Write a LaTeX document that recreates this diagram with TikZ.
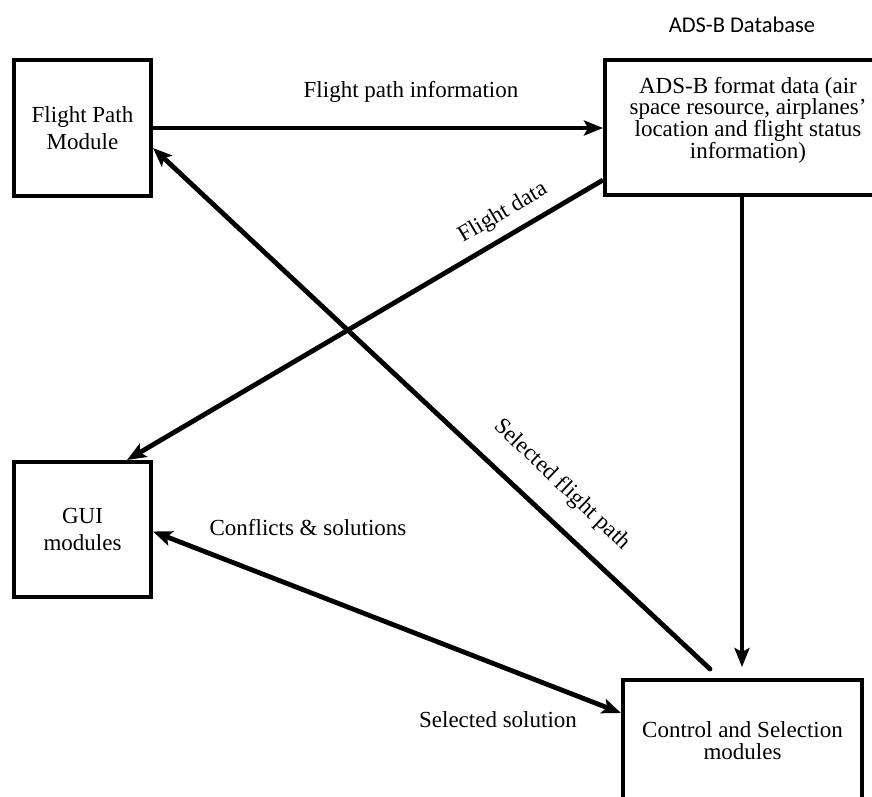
\documentclass[tikz,border=0pt]{standalone}
\usepackage{fontspec}
\setmainfont{Liberation Serif}
\newfontfamily\dbfont{Carlito}
\usetikzlibrary{arrows.meta,calc}
\begin{document}
\begin{tikzpicture}[x=1pt,y=-1pt,
  box/.style={draw,line width=4pt,minimum width=137pt,minimum height=136pt,inner sep=0pt,align=center,font=\fontsize{23}{26.5}\selectfont},
  txt/.style={font=\fontsize{23}{27}\selectfont,inner sep=0pt},
  tip/.style={},
  conn/.style={line width=4.8pt,-{Stealth[length=19pt,width=15pt,inset=4pt]}},
  conntwo/.style={line width=4.8pt,{Stealth[length=19pt,width=15pt,inset=4pt]}-{Stealth[length=19pt,width=15pt,inset=4pt]}},
  ]
\useasboundingbox (0,0) rectangle (872,796);
\clip (0,0) rectangle (872,796);
\fill[white] (0,0) rectangle (872,796);

\node[box] (fp) at (82.5,128) {Flight Path\\Module};
\node[box,minimum height=135pt] (gui) at (82.5,529.5) {GUI\\modules};
\node[box,minimum width=285pt,minimum height=135pt] (ads) at (747.5,127.5) {};
\node[txt,align=center,font=\fontsize{23}{21.7}\selectfont] (adst) at (748,120) {ADS-B format data (air\\space resource, airplanes’\\location and flight status\\information)};
\node[box,minimum width=239pt,minimum height=150pt] (ctl) at (742.5,755) {};
\node[txt,align=center,font=\fontsize{23}{22}\selectfont] (ctlt) at (742.5,741) {Control and Selection\\modules};
\node[font=\dbfont\fontsize{22.5}{26}\selectfont,inner sep=0pt] (db) at (742,25) {ADS-B Database};

\draw[conn] (fp.east) -- (fp.east -| ads.west);
\draw[conn] ($(ads.south west)+(0,-17)$) -- ($(gui.north east)+(-26,0)$);
\draw[conn,line cap=round] ($(ctl.north west)+(89,-9)$) -- ($(fp.east)+(0,20)$);
\draw[conn] ($(ads.south west)+(139,0)$) -- ($(ctl.north west)+(121,-11)$);
\draw[conntwo] ($(gui.east)+(0,2)$) -- ($(ctl.north west)+(0,35)$);

\node[txt] (lfpi) at (411,92) {Flight path information};
\node[txt,rotate=30.5] (lfd) at (503,213) {Flight data};
\node[txt,rotate=-43.5] (lsfp) at (562,485) {Selected flight path};
\node[txt] (lcs) at (308,528) {Conflicts \& solutions};
\node[txt] (lss) at (498,720) {Selected solution};
\end{tikzpicture}
\end{document}
